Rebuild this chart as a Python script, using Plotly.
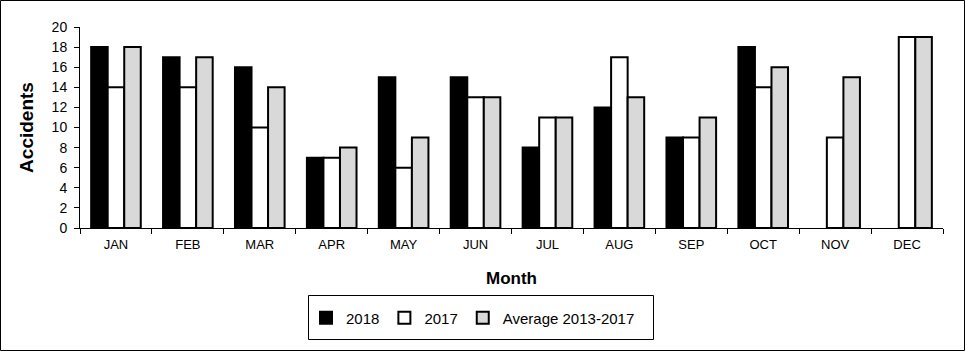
import plotly.graph_objects as go

months = ["JAN", "FEB", "MAR", "APR", "MAY", "JUN", "JUL", "AUG", "SEP", "OCT", "NOV", "DEC"]
y2018 = [18, 17, 16, 7, 15, 15, 8, 12, 9, 18, None, None]
y2017 = [14, 14, 10, 7, 6, 13, 11, 17, 9, 14, 9, 19]
avg_2013_2017 = [18, 17, 14, 8, 9, 13, 11, 13, 11, 16, 15, 19]
y_ticks = [0, 2, 4, 6, 8, 10, 12, 14, 16, 18, 20]

FONT = "Liberation Sans, Arial, sans-serif"

fig = go.Figure()
fig.add_trace(go.Bar(x=months, y=y2018, name="2018",
                     marker=dict(color="#000000", line=dict(color="#000000", width=2))))
fig.add_trace(go.Bar(x=months, y=y2017, name="2017",
                     marker=dict(color="#FFFFFF", line=dict(color="#000000", width=2))))
fig.add_trace(go.Bar(x=months, y=avg_2013_2017, name="Average 2013-2017",
                     marker=dict(color="#D9D9D9", line=dict(color="#000000", width=2))))

L, R, T, B = 80, 22, 27, 123
W, H = 965, 351
pw, ph = W - L - R, H - T - B

def px_x(x):
    return (x - L) / pw

def px_y(y):
    return (H - B - y) / ph

fig.update_layout(
    width=W, height=H,
    margin=dict(l=L, r=R, t=T, b=B),
    paper_bgcolor="white", plot_bgcolor="white",
    font=dict(family=FONT, size=13, color="#000000"),
    barmode="group", bargap=0.31, bargroupgap=0,
    showlegend=True,
    legend=dict(orientation="h", x=px_x(306), xanchor="left",
                y=px_y(318), yanchor="middle",
                bgcolor="rgba(0,0,0,0)", borderwidth=0,
                font=dict(family=FONT, size=15, color="#000000"),
                traceorder="normal"),
    xaxis=dict(type="category", showline=True, linecolor="#000000", linewidth=1,
               ticks="outside", ticklen=5, tickcolor="#000000", tickson="boundaries",
               showgrid=False, tickfont=dict(family=FONT, size=13, color="#000000"),
               ticklabelstandoff=4,
               title=dict(text="<b>Month</b>", font=dict(family=FONT, size=17, color="#000000"),
                          standoff=21),
               automargin=False),
    yaxis=dict(range=[0, 20], tickvals=y_ticks, showline=True, linecolor="#000000", linewidth=1,
               ticks="outside", ticklen=5, tickcolor="#000000", showgrid=False, zeroline=False,
               tickfont=dict(family=FONT, size=14, color="#000000"),
               ticklabelstandoff=4,
               title=dict(text="<b>Accidents</b>", font=dict(family=FONT, size=19, color="#000000"),
                          standoff=12),
               automargin=False),
    shapes=[
        dict(type="rect", xref="paper", yref="paper",
             x0=px_x(308.5), x1=px_x(653.5), y0=px_y(295.5), y1=px_y(339.5),
             line=dict(color="#000000", width=1), fillcolor="rgba(0,0,0,0)"),
        dict(type="rect", xref="paper", yref="paper",
             x0=px_x(0.5), x1=px_x(964.5), y0=px_y(0.5), y1=px_y(350.5),
             line=dict(color="#000000", width=1), fillcolor="rgba(0,0,0,0)"),
    ],
)

fig.write_html("out.html")
